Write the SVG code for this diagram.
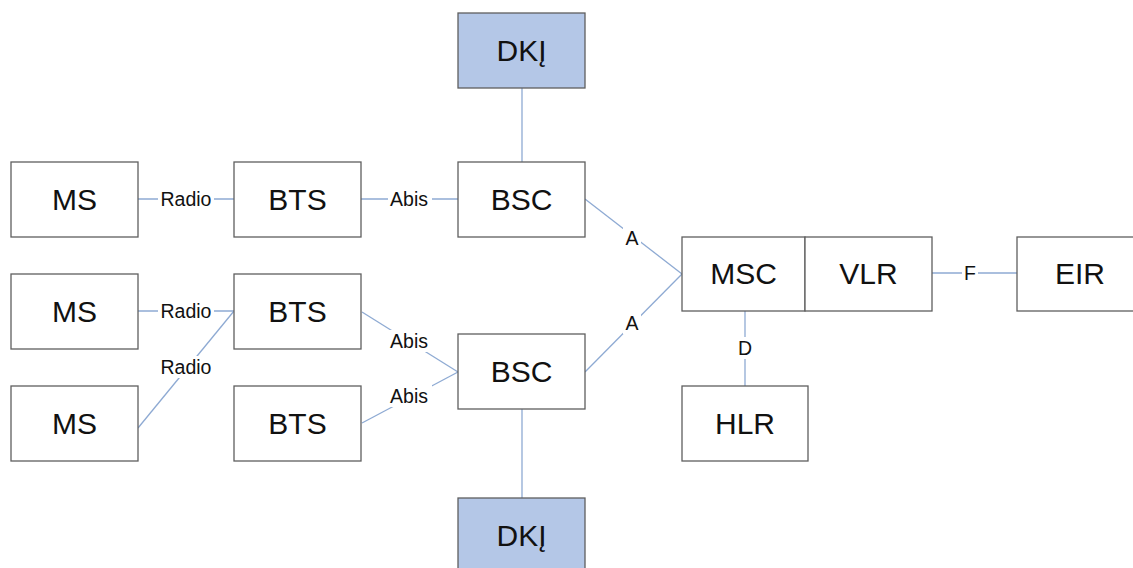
<svg xmlns="http://www.w3.org/2000/svg" width="1133" height="568" viewBox="0 0 1133 568">
  <style>
    .box { fill: #ffffff; stroke: #5f5f5f; stroke-width: 1.3; }
    .dk { fill: #b4c7e7; stroke: #5f5f5f; stroke-width: 1.3; }
    .name { font-family: "Liberation Sans", Arial, sans-serif; font-size: 30px; fill: #111111; text-anchor: middle; }
    .link { stroke: #8eaad3; stroke-width: 1.3; fill: none; }
    .lbl { font-family: "Liberation Sans", Arial, sans-serif; font-size: 19.5px; fill: #111111; text-anchor: middle; }
    .lblbg { fill: #ffffff; }
  </style>

  <!-- connectors -->
  <g id="connectors">
    <line class="link" x1="522" y1="88" x2="522" y2="162"/>
    <line class="link" x1="522" y1="409" x2="522" y2="498"/>
    <line class="link" x1="138" y1="199" x2="234" y2="199"/>
    <line class="link" x1="361" y1="199" x2="458" y2="199"/>
    <line class="link" x1="138" y1="311" x2="234" y2="311"/>
    <line class="link" x1="138" y1="428" x2="234" y2="311"/>
    <line class="link" x1="362" y1="312" x2="458" y2="372"/>
    <line class="link" x1="362" y1="423" x2="458" y2="372"/>
    <line class="link" x1="585" y1="199" x2="682" y2="274"/>
    <line class="link" x1="585" y1="372" x2="682" y2="274"/>
    <line class="link" x1="745" y1="311" x2="745" y2="386"/>
    <line class="link" x1="932" y1="273" x2="1017" y2="273"/>

    <!-- connector labels -->
    <rect class="lblbg" x="158" y="188" width="56" height="22"/>
    <text class="lbl" x="186" y="206">Radio</text>
    <rect class="lblbg" x="388" y="188" width="44" height="22"/>
    <text class="lbl" x="409" y="206">Abis</text>
    <rect class="lblbg" x="158" y="300" width="56" height="22"/>
    <text class="lbl" x="186" y="318">Radio</text>
    <rect class="lblbg" x="158" y="356" width="56" height="22"/>
    <text class="lbl" x="186" y="374">Radio</text>
    <rect class="lblbg" x="388" y="330" width="44" height="22"/>
    <text class="lbl" x="409" y="348">Abis</text>
    <rect class="lblbg" x="388" y="385" width="44" height="22"/>
    <text class="lbl" x="409" y="403">Abis</text>
    <rect class="lblbg" x="623" y="227" width="18" height="22"/>
    <text class="lbl" x="632" y="245">A</text>
    <rect class="lblbg" x="623" y="312" width="18" height="22"/>
    <text class="lbl" x="632" y="330">A</text>
    <rect class="lblbg" x="736" y="337" width="18" height="22"/>
    <text class="lbl" x="745" y="355">D</text>
    <rect class="lblbg" x="962" y="262" width="16" height="22"/>
    <text class="lbl" x="970" y="280">F</text>
  </g>

  <!-- nodes -->
  <g id="dk-top"><rect class="dk" x="458" y="13" width="127" height="75"/><text class="name" x="521.5" y="61">DKĮ</text></g>
  <g id="dk-bottom"><rect class="dk" x="458" y="498" width="127" height="75"/><text class="name" x="521.5" y="546">DKĮ</text></g>

  <g id="ms-1"><rect class="box" x="11" y="162" width="127" height="75"/><text class="name" x="74.5" y="210">MS</text></g>
  <g id="ms-2"><rect class="box" x="11" y="274" width="127" height="75"/><text class="name" x="74.5" y="322">MS</text></g>
  <g id="ms-3"><rect class="box" x="11" y="386" width="127" height="75"/><text class="name" x="74.5" y="434">MS</text></g>

  <g id="bts-1"><rect class="box" x="234" y="162" width="127" height="75"/><text class="name" x="297.5" y="210">BTS</text></g>
  <g id="bts-2"><rect class="box" x="234" y="274" width="127" height="75"/><text class="name" x="297.5" y="322">BTS</text></g>
  <g id="bts-3"><rect class="box" x="234" y="386" width="127" height="75"/><text class="name" x="297.5" y="434">BTS</text></g>

  <g id="bsc-1"><rect class="box" x="458" y="162" width="127" height="75"/><text class="name" x="521.5" y="210">BSC</text></g>
  <g id="bsc-2"><rect class="box" x="458" y="334" width="127" height="75"/><text class="name" x="521.5" y="382">BSC</text></g>

  <g id="msc"><rect class="box" x="682" y="237" width="123" height="74"/><text class="name" x="743.5" y="284">MSC</text></g>
  <g id="vlr"><rect class="box" x="805" y="237" width="127" height="74"/><text class="name" x="868.5" y="284">VLR</text></g>
  <g id="eir"><rect class="box" x="1017" y="237" width="127" height="74"/><text class="name" x="1080" y="284">EIR</text></g>
  <g id="hlr"><rect class="box" x="682" y="386" width="126" height="75"/><text class="name" x="745" y="434">HLR</text></g>
</svg>
